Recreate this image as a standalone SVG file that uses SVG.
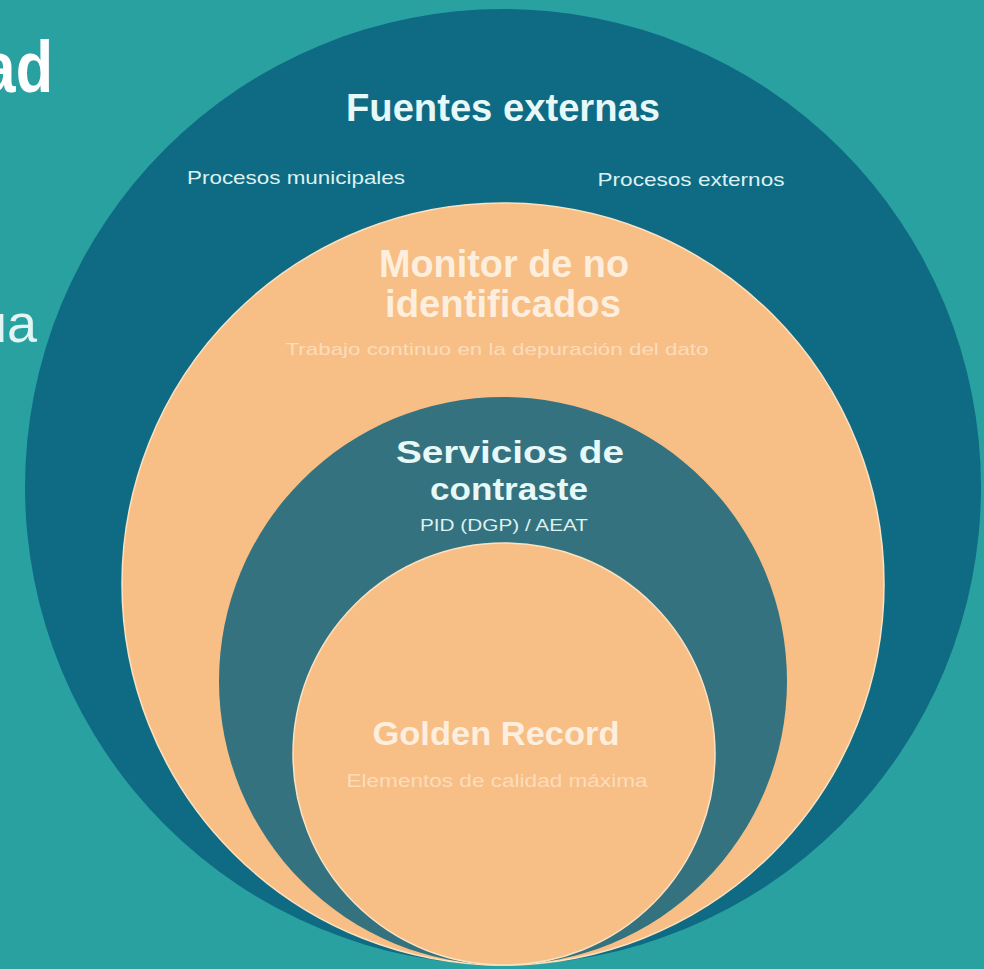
<svg xmlns="http://www.w3.org/2000/svg" width="984" height="969" viewBox="0 0 984 969">
<style>
.bg{fill:#2aa1a1}
.outer{fill:#0f6b84}
.peach{fill:#f7bf85;stroke:#fbe2c2;stroke-width:1.5}
.serv{fill:#35727f}
text{font-family:"Liberation Sans",Arial,sans-serif;text-anchor:middle}
.h-dark{font-weight:bold;fill:#e6f8f8}
.s-dark{fill:#dcf1f1}
.h-peach{font-weight:bold;fill:#fdeedd}
.s-peach{fill:#fcdcba}
</style>
<rect class="bg" x="0" y="0" width="984" height="969"/>
<g id="slide-text">
<text x="53" y="92" font-size="72" font-weight="bold" fill="#ffffff" style="text-anchor:end" transform="translate(53,0) scale(0.85,1) translate(-53,0)">ad</text>
<text x="37" y="342" font-size="54" fill="#e2f5f5" style="text-anchor:end">ua</text>
</g>
<g id="fuentes-externas">
<circle class="outer" cx="503" cy="487" r="478"/>
<text class="h-dark" x="503" y="121" font-size="38" textLength="314" lengthAdjust="spacingAndGlyphs">Fuentes externas</text>
<text class="s-dark" x="296" y="184" font-size="19" textLength="218" lengthAdjust="spacingAndGlyphs">Procesos municipales</text>
<text class="s-dark" x="691" y="186" font-size="19" textLength="187" lengthAdjust="spacingAndGlyphs">Procesos externos</text>
</g>
<g id="monitor">
<circle class="peach" cx="503" cy="584" r="381"/>
<text class="h-peach" x="504" y="277" font-size="38" textLength="250" lengthAdjust="spacingAndGlyphs">Monitor de no</text>
<text class="h-peach" x="503" y="317" font-size="38" textLength="236" lengthAdjust="spacingAndGlyphs">identificados</text>
<text class="s-peach" x="497" y="355" font-size="17" textLength="423" lengthAdjust="spacingAndGlyphs">Trabajo continuo en la depuración del dato</text>
</g>
<g id="servicios">
<circle class="serv" cx="503" cy="681" r="284"/>
<text class="h-dark" x="510" y="463" font-size="31" textLength="228" lengthAdjust="spacingAndGlyphs">Servicios de</text>
<text class="h-dark" x="509" y="500" font-size="31" textLength="158" lengthAdjust="spacingAndGlyphs">contraste</text>
<text class="s-dark" x="504" y="531" font-size="16" textLength="168" lengthAdjust="spacingAndGlyphs">PID (DGP) / AEAT</text>
</g>
<g id="golden-record">
<circle class="peach" cx="504" cy="754" r="211"/>
<text class="h-peach" x="496" y="745" font-size="33" textLength="247" lengthAdjust="spacingAndGlyphs">Golden Record</text>
<text class="s-peach" x="497" y="787" font-size="18" textLength="301" lengthAdjust="spacingAndGlyphs">Elementos de calidad máxima</text>
</g>
<g id="connectors"/>
</svg>
